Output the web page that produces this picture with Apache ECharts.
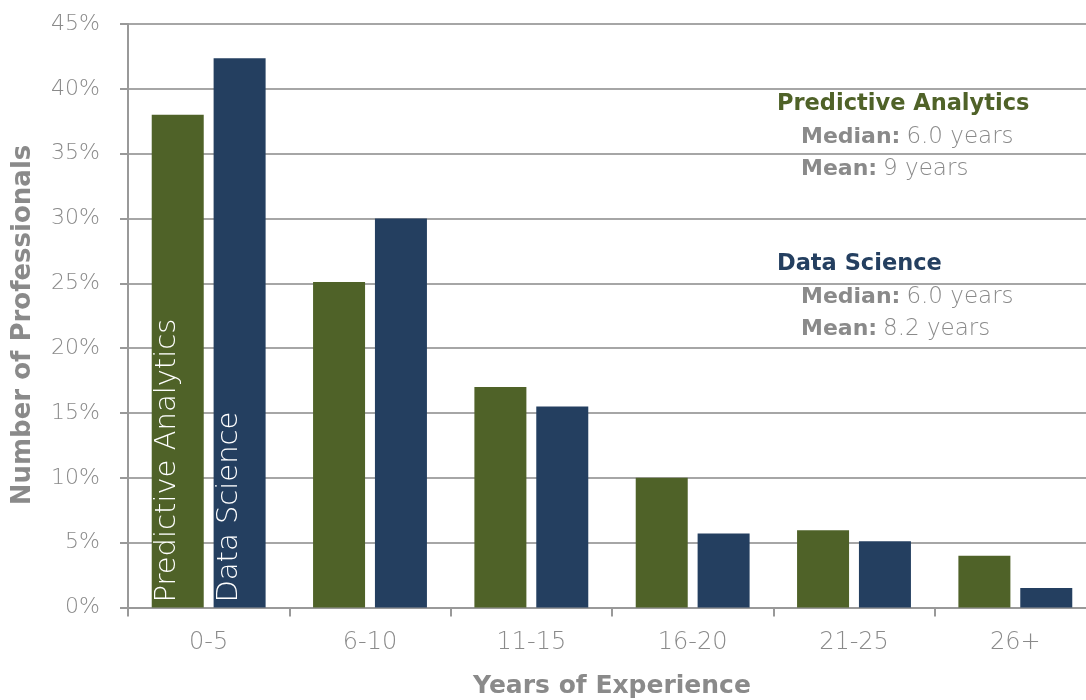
<!DOCTYPE html>
<html>
<head>
<meta charset="utf-8">
<script src="https://cdn.jsdelivr.net/npm/echarts@6/dist/echarts.min.js"></script>
<style>
  html, body { margin: 0; padding: 0; background: #fff; }
  #chart { width: 1086px; height: 700px; }
</style>
</head>
<body>
<div id="chart"></div>
<script>
// Years-of-experience buckets
const categories = ['0-5', '6-10', '11-15', '16-20', '21-25', '26+'];
// Share of professionals (%) per bucket
const predictiveAnalytics = [38.0, 25.1, 17.0, 10.0, 5.95, 4.0];
const dataScience = [42.35, 30.0, 15.5, 5.7, 5.1, 1.5];
const yTicks = [0, 5, 10, 15, 20, 25, 30, 35, 40, 45];

const FONT = '"DejaVu Sans", sans-serif';
const GREEN = '#4f6228';
const NAVY = '#243f60';
const GRAY = '#8a8a8a';

const chart = echarts.init(document.getElementById('chart'));

// Series name written up the first bar of each series
function firstBarLabel(values, text) {
  return values.map((v, i) => i === 0 ? {
    value: v,
    label: {
      show: true,
      formatter: text,
      position: 'insideBottom',
      rotate: 90,
      align: 'left',
      verticalAlign: 'middle',
      offset: [0, -10],
      color: '#ffffff',
      fontFamily: FONT,
      fontSize: 29,
      fontWeight: 200
    }
  } : v);
}

const statRich = {
  b: { fill: GRAY, fontFamily: FONT, fontSize: 22, fontWeight: 'bold' },
  n: { fill: GRAY, fontFamily: FONT, fontSize: 23, fontWeight: 200, padding: [0, 0, 0, 6] }
};

function statLine(x, y, key, value) {
  return {
    type: 'text', x: x, y: y,
    style: { text: '{b|' + key + '}{n|' + value + '}', rich: statRich, verticalAlign: 'middle' }
  };
}

chart.setOption({
  animation: false,
  backgroundColor: '#ffffff',
  grid: { left: 128, top: 24, width: 968, height: 583.5, outerBoundsMode: 'none', containLabel: false },
  xAxis: {
    type: 'category',
    data: categories,
    axisLine: { show: true, lineStyle: { color: '#999999', width: 2 } },
    axisTick: { show: true, length: 9, lineStyle: { color: '#999999', width: 2 } },
    axisLabel: { color: GRAY, fontFamily: FONT, fontSize: 24, fontWeight: 200, margin: 23 }
  },
  yAxis: {
    type: 'value',
    min: yTicks[0],
    max: yTicks[yTicks.length - 1],
    interval: 5,
    axisLine: { show: true, lineStyle: { color: '#999999', width: 2 } },
    axisTick: { show: true, length: 8, lineStyle: { color: '#999999', width: 2 } },
    splitLine: { show: true, lineStyle: { color: '#a6a6a6', width: 2 } },
    axisLabel: { color: GRAY, fontFamily: FONT, fontSize: 22, fontWeight: 200, margin: 28, formatter: '{value}%' }
  },
  series: [
    {
      name: 'Predictive Analytics',
      type: 'bar',
      data: firstBarLabel(predictiveAnalytics, 'Predictive Analytics'),
      barWidth: 52,
      barGap: '19%',
      itemStyle: { color: GREEN }
    },
    {
      name: 'Data Science',
      type: 'bar',
      data: firstBarLabel(dataScience, 'Data Science'),
      barWidth: 52,
      itemStyle: { color: NAVY }
    }
  ],
  graphic: [
    {
      type: 'text', x: 612, y: 686,
      style: {
        text: 'Years of Experience', fill: GRAY, fontFamily: FONT, fontSize: 25, fontWeight: 'bold',
        align: 'center', verticalAlign: 'middle'
      }
    },
    {
      type: 'text', x: 23, y: 325, rotation: Math.PI / 2,
      style: {
        text: 'Number of Professionals', fill: GRAY, fontFamily: FONT, fontSize: 26, fontWeight: 'bold',
        align: 'center', verticalAlign: 'middle'
      }
    },
    {
      type: 'text', x: 777, y: 104,
      style: { text: 'Predictive Analytics', fill: GREEN, fontFamily: FONT, fontSize: 22.5, fontWeight: 'bold', verticalAlign: 'middle' }
    },
    statLine(801, 137, 'Median:', '6.0 years'),
    statLine(801, 169, 'Mean:', '9 years'),
    {
      type: 'text', x: 777, y: 264,
      style: { text: 'Data Science', fill: NAVY, fontFamily: FONT, fontSize: 22.5, fontWeight: 'bold', verticalAlign: 'middle' }
    },
    statLine(801, 297, 'Median:', '6.0 years'),
    statLine(801, 329, 'Mean:', '8.2 years')
  ]
});
</script>
</body>
</html>
